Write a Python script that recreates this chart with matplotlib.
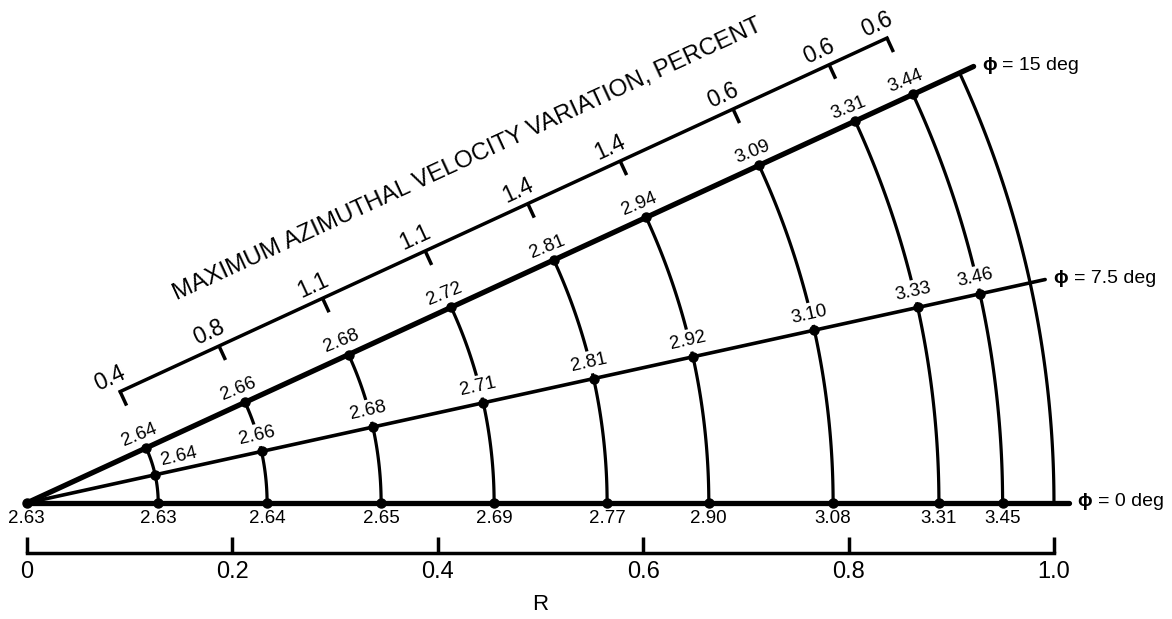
import numpy as np
import matplotlib.pyplot as plt

plt.rcParams['font.family'] = ['Liberation Sans', 'DejaVu Sans']

# radial stations (R = 0 is the apex of the wedge)
r_station = [0.0, 0.128, 0.234, 0.345, 0.455, 0.565, 0.664, 0.785, 0.888, 0.950]
phi_lines = [0.0, 7.5, 15.0]

# values along each line of constant phi
val_phi0 = [2.63, 2.63, 2.64, 2.65, 2.69, 2.77, 2.90, 3.08, 3.31, 3.45]
val_phi75 = [2.64, 2.66, 2.68, 2.71, 2.81, 2.92, 3.10, 3.33, 3.46]
val_phi15 = [2.64, 2.66, 2.68, 2.72, 2.81, 2.94, 3.09, 3.31, 3.44]

# maximum azimuthal velocity variation at each station, percent
vel_var = [0.4, 0.8, 1.1, 1.1, 1.4, 1.4, 0.6, 0.6, 0.6]

r_ticks = [0.0, 0.2, 0.4, 0.6, 0.8, 1.0]

SPREAD = 1.65      # angular exaggeration of the wedge
R_OUTER = 1.0
R_END = 1.015


def xy(r, phi):
    a = np.radians(np.asarray(phi) * SPREAD)
    r = np.asarray(r)
    return r * np.cos(a), r * np.sin(a)


fig = plt.figure(figsize=(11.72, 6.19), dpi=100)
ax = fig.add_axes([0, 0, 1, 1])
ax.set_xlim(-0.026, 1.1149)
ax.set_ylim(-0.1129, 0.4896)
ax.set_aspect('equal')
ax.axis('off')

# rays of constant phi
line_w = {0.0: 3.8, 7.5: 2.6, 15.0: 3.8}
for phi in phi_lines:
    x, y = xy([0.0, R_END], phi)
    ax.plot(x, y, color='k', lw=line_w[phi], solid_capstyle='round', zorder=4)
    ax.annotate('\u03d5', (x[1], y[1]), xytext=(6, 1), textcoords='offset points',
                ha='left', va='center', fontsize=14, fontweight='bold')
    ax.annotate(f'= {phi:g} deg', (x[1], y[1]), xytext=(20.5, 1),
                textcoords='offset points', ha='left', va='center', fontsize=14)

# arcs of constant R
phis = np.linspace(0, 15, 80)
for r in r_station[1:] + [R_OUTER]:
    x, y = xy(r, phis)
    ax.plot(x, y, color='k', lw=2.3, zorder=2)

# station points
x0, y0 = xy(r_station, 0.0)
x7, y7 = xy(r_station[1:], 7.5)
x15, y15 = xy(r_station[1:], 15.0)
for px, py in [(x0, y0), (x7, y7), (x15, y15)]:
    ax.plot(px, py, 'o', color='k', ms=6.5, zorder=5)

lbl = dict(textcoords='offset points', ha='center', va='center', fontsize=13.5,
           rotation_mode='anchor')
for px, py, v in zip(x0, y0, val_phi0):
    ax.annotate(f'{v:.2f}', (px, py), xytext=(0, -11.5), **lbl)
for i, (px, py, v) in enumerate(zip(x7, y7, val_phi75)):
    off = (17, 13) if i == 0 else (-3.6, 11.5)
    ax.annotate(f'{v:.2f}', (px, py), xytext=off, rotation=12.6, zorder=3,
                bbox=dict(boxstyle='square,pad=0.15', fc='white', ec='none'), **lbl)
for px, py, v in zip(x15, y15, val_phi15):
    ax.annotate(f'{v:.2f}', (px, py), xytext=(-5, 9.6), rotation=22, **lbl)

# velocity variation scale, parallel to the phi = 15 deg ray
a15 = np.radians(15.0 * SPREAD)
nx, ny = -np.sin(a15), np.cos(a15)
gap, tick = 0.0604, 0.015
sx, sy = x15 + gap * nx, y15 + gap * ny
ax.plot([sx[0], sx[-1]], [sy[0], sy[-1]], color='k', lw=2.5, zorder=4)
for px, py, v in zip(sx, sy, vel_var):
    ax.plot([px, px - tick * nx], [py, py - tick * ny], color='k', lw=2.5,
            solid_capstyle='butt', zorder=4)
    ax.annotate(f'{v:.1f}', (px, py), xytext=(-7.2, 9.6), rotation=np.degrees(a15),
                textcoords='offset points', ha='center', va='center', fontsize=16.5,
                rotation_mode='anchor')

tx, ty = xy(0.215, 15.0)
ax.text(tx + 0.1178 * nx, ty + 0.1178 * ny,
        'MAXIMUM AZIMUTHAL VELOCITY VARIATION, PERCENT',
        rotation=np.degrees(a15), rotation_mode='anchor', ha='left', va='baseline',
        fontsize=17.4)

# R scale
y_ax = -0.0487
ax.plot([r_ticks[0], r_ticks[-1]], [y_ax, y_ax], color='k', lw=2.5)
for t in r_ticks:
    ax.plot([t, t], [y_ax, y_ax + 0.0156], color='k', lw=2.5, solid_capstyle='butt')
    ax.annotate(f'{t:g}' if t == 0 else f'{t:.1f}', (t, y_ax), xytext=(0, -14),
                textcoords='offset points', ha='center', va='center', fontsize=17)
ax.annotate('R', (0.5, y_ax), xytext=(0, -37), textcoords='offset points',
            ha='center', va='center', fontsize=16)

fig.savefig('out.png', dpi=100, facecolor='white')
